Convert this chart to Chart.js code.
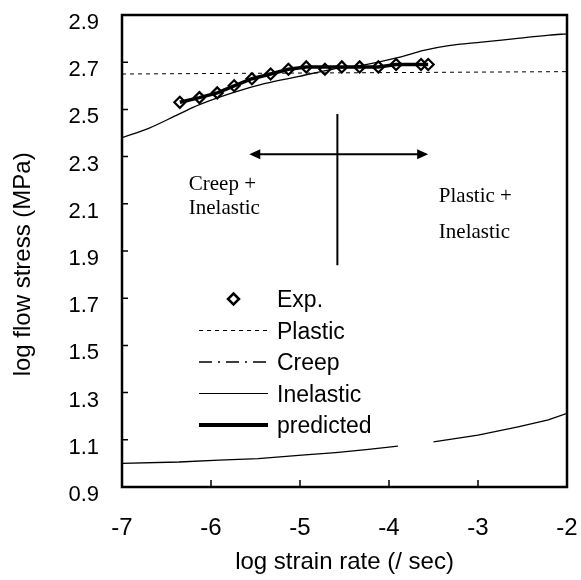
<!DOCTYPE html>
<html>
<head>
<meta charset="utf-8">
<script src="https://cdn.jsdelivr.net/npm/chart.js@4.4.0/dist/chart.umd.min.js"></script>
<style>
    html, body { margin: 0; padding: 0; background: #fff; }
    #wrap { width: 581px; height: 580px; }
</style>
</head>
<body>
<div id="wrap"><canvas id="chart" width="581" height="580"></canvas></div>
<script>
// Experimental points (log strain rate vs log flow stress)
const expX = [-6.35, -6.13, -5.93, -5.74, -5.54, -5.33, -5.13, -4.93, -4.72, -4.53, -4.33, -4.12, -3.92, -3.64, -3.56];
const expY = [2.53, 2.55, 2.57, 2.60, 2.63, 2.65, 2.67, 2.68, 2.67, 2.68, 2.68, 2.68, 2.69, 2.69, 2.69];

// Predicted curve (thick line through the experiments)
const predX = [-6.35, -6.13, -5.93, -5.74, -5.54, -5.33, -5.13, -4.93, -4.72, -4.53, -4.33, -4.12, -3.92, -3.64, -3.56];
const predY = [2.53, 2.55, 2.57, 2.60, 2.63, 2.65, 2.67, 2.68, 2.68, 2.68, 2.68, 2.68, 2.69, 2.69, 2.69];

// Plastic component
const plasticX = [-7, -2];
const plasticY = [2.65, 2.66];

// Inelastic component
const inelasticX = [-7, -6.70, -6.36, -6.13, -5.76, -5.39, -5.01, -4.64, -4.26, -3.89, -3.61, -3.33, -2.96, -2.58, -2.20, -2.0];
const inelasticY = [2.38, 2.42, 2.48, 2.52, 2.57, 2.61, 2.64, 2.67, 2.69, 2.72, 2.75, 2.77, 2.785, 2.80, 2.815, 2.82];

// Creep component (null = break in the curve)
const creepX = [-7, -6.36, -5.91, -5.47, -4.98, -4.60, -4.23, -3.90, -3.70, -3.50, -3.00, -2.55, -2.21, -2.0];
const creepY = [1.00, 1.006, 1.014, 1.02, 1.035, 1.046, 1.059, 1.073, null, 1.091, 1.12, 1.155, 1.184, 1.212];

// Axis ticks
const xTicks = [-7, -6, -5, -4, -3, -2];
const xTickLabels = ['-7', '-6', '-5', '-4', '-3', '-2'];
const yTicks = [0.9, 1.1, 1.3, 1.5, 1.7, 1.9, 2.1, 2.3, 2.5, 2.7, 2.9];
const yTickLabels = ['0.9', '1.1', '1.3', '1.5', '1.7', '1.9', '2.1', '2.3', '2.5', '2.7', '2.9'];

// Region divider (cross with arrows)
const crossX = -4.58;
const crossY = [1.84, 2.48];
const arrowX = [-5.57, -3.56];
const arrowY = 2.31;

// Region texts
const regionText = ['Creep +', 'Inelastic', 'Plastic +', 'Inelastic'];
const regionTextX = [-6.25, -6.25, -3.44, -3.44];
const regionTextY = [2.18, 2.08, 2.13, 1.98];

const legendLabels = ['Exp.', 'Plastic', 'Creep', 'Inelastic', 'predicted'];

const toPoints = (xs, ys) => xs.map((x, i) => ({ x: x, y: ys[i] }));

Chart.defaults.font.family = "'Liberation Sans', Arial, sans-serif";
Chart.defaults.color = '#000';

// keep the plot box where the reference has it
const fixScale = (s, size) => {
    if (s.isHorizontal()) s.height = size; else s.width = size;
    s.paddingLeft = 0;
    s.paddingRight = 0;
    s.paddingTop = 0;
    s.paddingBottom = 0;
};

// Frame, inward ticks, region marks and legend
const annotatePlugin = {
    id: 'annotate',
    afterDatasetsDraw(chart) {
        const { ctx, chartArea: a, scales: { x, y } } = chart;
        ctx.save();
        ctx.strokeStyle = '#000';
        ctx.fillStyle = '#000';

        // inward tick marks
        ctx.lineWidth = 1.5;
        ctx.beginPath();
        xTicks.slice(1, -1).forEach(v => {
            const px = x.getPixelForValue(v);
            ctx.moveTo(px, a.bottom);
            ctx.lineTo(px, a.bottom - 7);
        });
        yTicks.slice(1, -1).forEach(v => {
            const py = y.getPixelForValue(v);
            ctx.moveTo(a.left, py);
            ctx.lineTo(a.left + 6, py);
        });
        ctx.stroke();

        // plot frame
        ctx.lineWidth = 2.5;
        ctx.strokeRect(a.left, a.top, a.right - a.left, a.bottom - a.top);

        // cross
        ctx.lineWidth = 2;
        const cx = x.getPixelForValue(crossX);
        const ax0 = x.getPixelForValue(arrowX[0]);
        const ax1 = x.getPixelForValue(arrowX[1]);
        const ay = y.getPixelForValue(arrowY);
        ctx.beginPath();
        ctx.moveTo(cx, y.getPixelForValue(crossY[0]));
        ctx.lineTo(cx, y.getPixelForValue(crossY[1]));
        ctx.moveTo(ax0 + 6, ay);
        ctx.lineTo(ax1 - 6, ay);
        ctx.stroke();
        // arrow heads
        ctx.beginPath();
        ctx.moveTo(ax0, ay);
        ctx.lineTo(ax0 + 11, ay - 5);
        ctx.lineTo(ax0 + 11, ay + 5);
        ctx.closePath();
        ctx.moveTo(ax1, ay);
        ctx.lineTo(ax1 - 11, ay - 5);
        ctx.lineTo(ax1 - 11, ay + 5);
        ctx.closePath();
        ctx.fill();

        // region texts
        ctx.font = "21px 'Liberation Serif', 'Times New Roman', serif";
        ctx.textAlign = 'left';
        ctx.textBaseline = 'middle';
        regionText.forEach((t, i) => {
            ctx.fillText(t, x.getPixelForValue(regionTextX[i]), y.getPixelForValue(regionTextY[i]));
        });

        // legend
        const x0 = a.left + 77, x1 = a.left + 146, tx = a.left + 155;
        const rowY = i => a.top + 284 + i * 31.5;
        ctx.font = "23px 'Liberation Sans', Arial, sans-serif";
        legendLabels.forEach((t, i) => ctx.fillText(t, tx, rowY(i) + 2));

        // Exp. diamond
        const dy = rowY(0), dx = (x0 + x1) / 2;
        ctx.lineWidth = 2.5;
        ctx.beginPath();
        ctx.moveTo(dx, dy - 5.5);
        ctx.lineTo(dx + 5.5, dy);
        ctx.lineTo(dx, dy + 5.5);
        ctx.lineTo(dx - 5.5, dy);
        ctx.closePath();
        ctx.stroke();

        const sample = (i, width, dash) => {
            ctx.lineWidth = width;
            ctx.setLineDash(dash);
            ctx.beginPath();
            ctx.moveTo(x0, rowY(i));
            ctx.lineTo(x1, rowY(i));
            ctx.stroke();
        };
        sample(1, 1, [4, 4]);
        sample(2, 1.5, [13, 6, 2, 6]);
        sample(3, 1, []);
        sample(4, 4, []);
        ctx.restore();
    }
};

new Chart(document.getElementById('chart'), {
    type: 'line',
    data: {
        datasets: [
            {
                label: 'Plastic',
                data: toPoints(plasticX, plasticY),
                borderColor: '#000',
                borderWidth: 1,
                borderDash: [4, 4],
                pointRadius: 0,
                tension: 0
            },
            {
                label: 'Creep',
                data: toPoints(creepX, creepY),
                borderColor: '#000',
                borderWidth: 1.3,
                pointRadius: 0,
                spanGaps: false,
                tension: 0
            },
            {
                label: 'Inelastic',
                data: toPoints(inelasticX, inelasticY),
                borderColor: '#000',
                borderWidth: 1.3,
                pointRadius: 0,
                cubicInterpolationMode: 'monotone'
            },
            {
                label: 'predicted',
                data: toPoints(predX, predY),
                borderColor: '#000',
                borderWidth: 3.5,
                pointRadius: 0,
                tension: 0
            },
            {
                label: 'Exp.',
                data: toPoints(expX, expY),
                showLine: false,
                pointStyle: 'rectRot',
                pointRadius: 5.5,
                pointBorderWidth: 2.2,
                pointBorderColor: '#000',
                pointBackgroundColor: '#fff'
            }
        ]
    },
    options: {
        responsive: false,
        animation: false,
        layout: { padding: { top: 15, right: 14, left: 0, bottom: 0 } },
        plugins: {
            legend: { display: false },
            tooltip: { enabled: false }
        },
        scales: {
            x: {
                type: 'linear',
                min: -7,
                max: -2,
                afterFit: s => fixScale(s, 93),
                afterBuildTicks: s => { s.ticks = xTicks.map(v => ({ value: v })); },
                grid: { display: false, drawTicks: false },
                border: { display: false },
                ticks: {
                    font: { size: 24 },
                    padding: 27,
                    maxRotation: 0,
                    callback: (v, i) => xTickLabels[i]
                },
                title: {
                    display: true,
                    text: 'log strain rate (/ sec)',
                    font: { size: 24 },
                    padding: { top: 0, bottom: 3 }
                }
            },
            y: {
                type: 'linear',
                min: 0.9,
                max: 2.9,
                afterFit: s => fixScale(s, 122),
                afterBuildTicks: s => { s.ticks = yTicks.map(v => ({ value: v })); },
                grid: { display: false, drawTicks: false },
                border: { display: false },
                ticks: {
                    font: { size: 22 },
                    padding: 23,
                    labelOffset: 8,
                    callback: (v, i) => yTickLabels[i]
                },
                title: {
                    display: true,
                    // trailing spaces nudge the title down like the reference
                    text: 'log flow stress (MPa)    ',
                    font: { size: 24 },
                    padding: { top: 9, bottom: 0 }
                }
            }
        }
    },
    plugins: [annotatePlugin]
});
</script>
</body>
</html>
